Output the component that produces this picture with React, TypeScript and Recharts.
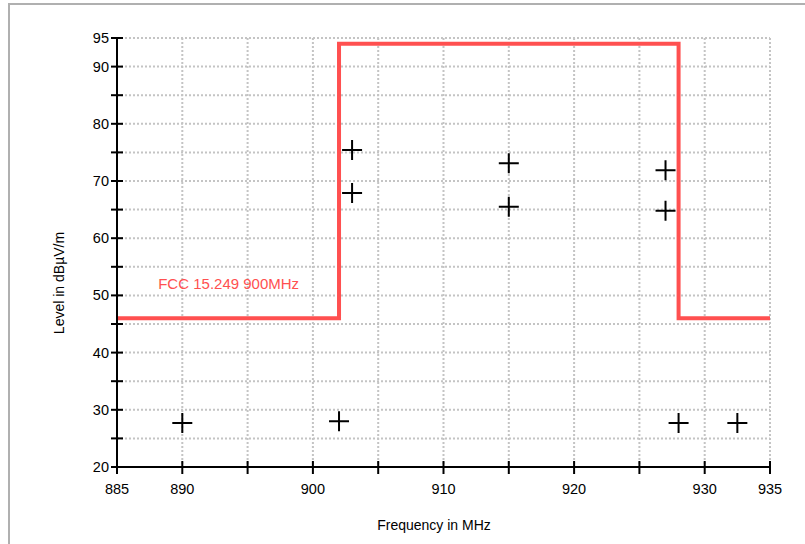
import { CartesianGrid, ComposedChart, Line, ReferenceDot, Scatter, XAxis, YAxis } from 'recharts'

// limit line (FCC 15.249, 900 MHz band), in dBµV/m
const limitFreq = [885, 902, 902, 928, 928, 935]
const limitLevel = [46, 46, 94, 94, 46, 46]

// measured peaks
const measFreq = [890, 902, 903, 903, 915, 915, 927, 927, 928, 932.5]
const measLevel = [27.7, 28.0, 75.4, 67.9, 73.1, 65.5, 71.9, 64.8, 27.7, 27.7]

const xTicks = [885, 890, 895, 900, 905, 910, 915, 920, 925, 930, 935]
const xLabels = [885, 890, 900, 910, 920, 930, 935]
const yTicks = [20, 25, 30, 35, 40, 45, 50, 55, 60, 65, 70, 75, 80, 85, 90, 95]
const yLabels = [20, 30, 40, 50, 60, 70, 80, 90, 95]

const limitData = limitFreq.map((f, i) => ({ f, v: limitLevel[i] }))
const measData = measFreq.map((f, i) => ({ f, v: measLevel[i] }))

const RED = '#ff5050'
const FONT = '"Liberation Sans", Arial, sans-serif'

function XTick({ x, y, payload }: any) {
  const v = payload.value
  return (
    <g>
      <line x1={x} x2={x} y1={y - 6} y2={y + 7} stroke="#000" strokeWidth={2} />
      {xLabels.includes(v) && (
        <text x={x} y={y + 27} textAnchor="middle" fontSize={14.5} fontFamily={FONT} fill="#000">
          {v}
        </text>
      )}
    </g>
  )
}

function YTick({ x, y, payload }: any) {
  const v = payload.value
  return (
    <g>
      <line x1={x - 6} x2={x + 6} y1={y} y2={y} stroke="#000" strokeWidth={2} />
      {yLabels.includes(v) && (
        <text x={x - 8} y={y + 5} textAnchor="end" fontSize={14.5} fontFamily={FONT} fill="#000">
          {v}
        </text>
      )}
    </g>
  )
}

function Cross({ cx, cy }: any) {
  return (
    <path d={`M${cx - 10},${cy}H${cx + 10}M${cx},${cy - 10}V${cy + 10}`} stroke="#000" strokeWidth={2} fill="none" />
  )
}

export default function App() {
  return (
    <div style={{ position: 'fixed', left: 0, top: 0, width: 805, height: 544, fontFamily: FONT, background: '#fff' }}>
      <div
        style={{
          position: 'absolute',
          left: 8,
          top: 3,
          width: 820,
          height: 600,
          border: '2px solid #b0b0b0',
        }}
      />
      <div style={{ position: 'absolute', left: 0, top: 0 }}>
        <ComposedChart width={805} height={544} margin={{ top: 38, right: 35, bottom: 47, left: 57 }}>
          <CartesianGrid stroke="#c4c4c4" strokeWidth={2} strokeDasharray="2 2" />
          <XAxis
            type="number"
            dataKey="f"
            domain={[885, 935]}
            ticks={xTicks}
            interval={0}
            height={30}
            tickSize={0}
            tickMargin={0}
            axisLine={{ stroke: '#000', strokeWidth: 2 }}
            tick={(p: any) => <XTick {...p} />}
            label={{
              content: () => (
                <text x={434} y={530} textAnchor="middle" fontSize={14} fontFamily={FONT} fill="#000">
                  Frequency in MHz
                </text>
              ),
            }}
          />
          <YAxis
            type="number"
            domain={[20, 95]}
            ticks={yTicks}
            interval={0}
            width={60}
            tickSize={0}
            tickMargin={0}
            axisLine={{ stroke: '#000', strokeWidth: 2 }}
            tick={(p: any) => <YTick {...p} />}
            label={{
              content: () => (
                <text
                  x={64}
                  y={283}
                  transform="rotate(-90, 64, 283)"
                  textAnchor="middle"
                  fontSize={14}
                  fontFamily={FONT}
                  fill="#000"
                >
                  Level in dBµV/m
                </text>
              ),
            }}
          />
          <Line
            data={limitData}
            dataKey="v"
            type="linear"
            stroke={RED}
            strokeWidth={4}
            dot={false}
            activeDot={false}
            isAnimationActive={false}
          />
          <Scatter data={measData} dataKey="v" shape={(p: any) => <Cross {...p} />} isAnimationActive={false} />
          <ReferenceDot
            x={893.55}
            y={52}
            r={0}
            fill="none"
            stroke="none"
            label={{ value: 'FCC 15.249 900MHz', position: 'center', fill: RED, fontSize: 15 }}
          />
        </ComposedChart>
      </div>
    </div>
  )
}
